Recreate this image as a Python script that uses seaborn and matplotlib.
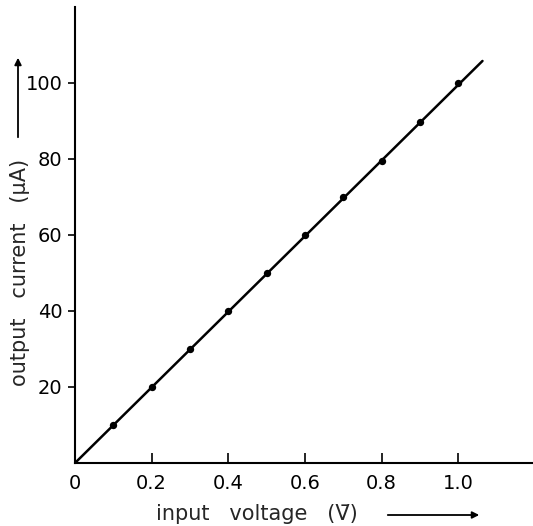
import matplotlib
matplotlib.use("Agg")
import matplotlib.pyplot as plt
import seaborn as sns

# measured points
voltage = [0.1, 0.2, 0.3, 0.4, 0.5, 0.6, 0.7, 0.8, 0.9, 1.0]
current = [10, 20, 30, 40, 50, 60, 70, 79.6, 89.8, 100]

# drawn straight line through the points
line_v = [0.0, 1.063]
line_i = [0.0, 105.8]

xticks = [0, 0.2, 0.4, 0.6, 0.8, 1.0]
xticklabels = ["0", "0.2", "0.4", "0.6", "0.8", "1.0"]
yticks = [20, 40, 60, 80, 100]
yticklabels = ["20", "40", "60", "80", "100"]

sns.set_style("ticks")
plt.rcParams["font.family"] = ["DejaVu Sans"]

fig = plt.figure(figsize=(5.33, 5.26), dpi=100)
ax = fig.add_axes([75 / 533, 63 / 526, 460 / 533, 456 / 526])

sns.lineplot(x=line_v, y=line_i, ax=ax, color="black", linewidth=1.8)
sns.scatterplot(x=voltage, y=current, ax=ax, color="black", s=28,
                edgecolor="black", linewidth=0, zorder=3)

ax.set_xlim(0, 1.2)
ax.set_ylim(0, 120)
ax.set_xticks(xticks)
ax.set_xticklabels(xticklabels)
ax.set_yticks(yticks)
ax.set_yticklabels(yticklabels)

sns.despine(ax=ax)
for s in ["left", "bottom"]:
    ax.spines[s].set_linewidth(1.5)
    ax.spines[s].set_color("black")

ax.tick_params(axis="x", direction="in", length=7, width=1.2, pad=8,
               labelsize=14, colors="black")
ax.tick_params(axis="y", direction="out", length=5, width=1.2, pad=4,
               labelsize=14, colors="black")
ax.set_xlabel("")
ax.set_ylabel("")

# axis titles with the long arrows as in the original
fig.text(257 / 533, 1 - 514 / 526, "input   voltage   (V\u0304)",
         ha="center", va="center", fontsize=15)
fig.text(20 / 533, 1 - 272 / 526, "output   current   (\u03bcA)",
         ha="center", va="center", fontsize=15, rotation=90)

fig.add_artist(matplotlib.patches.FancyArrowPatch(
    (385 / 533, 1 - 515 / 526), (482 / 533, 1 - 515 / 526),
    transform=fig.transFigure, arrowstyle="-|>", mutation_scale=10,
    color="black", linewidth=1.3))
fig.add_artist(matplotlib.patches.FancyArrowPatch(
    (18 / 533, 1 - 140 / 526), (18 / 533, 1 - 55 / 526),
    transform=fig.transFigure, arrowstyle="-|>", mutation_scale=10,
    color="black", linewidth=1.3))

fig.savefig("out.png", dpi=100)
